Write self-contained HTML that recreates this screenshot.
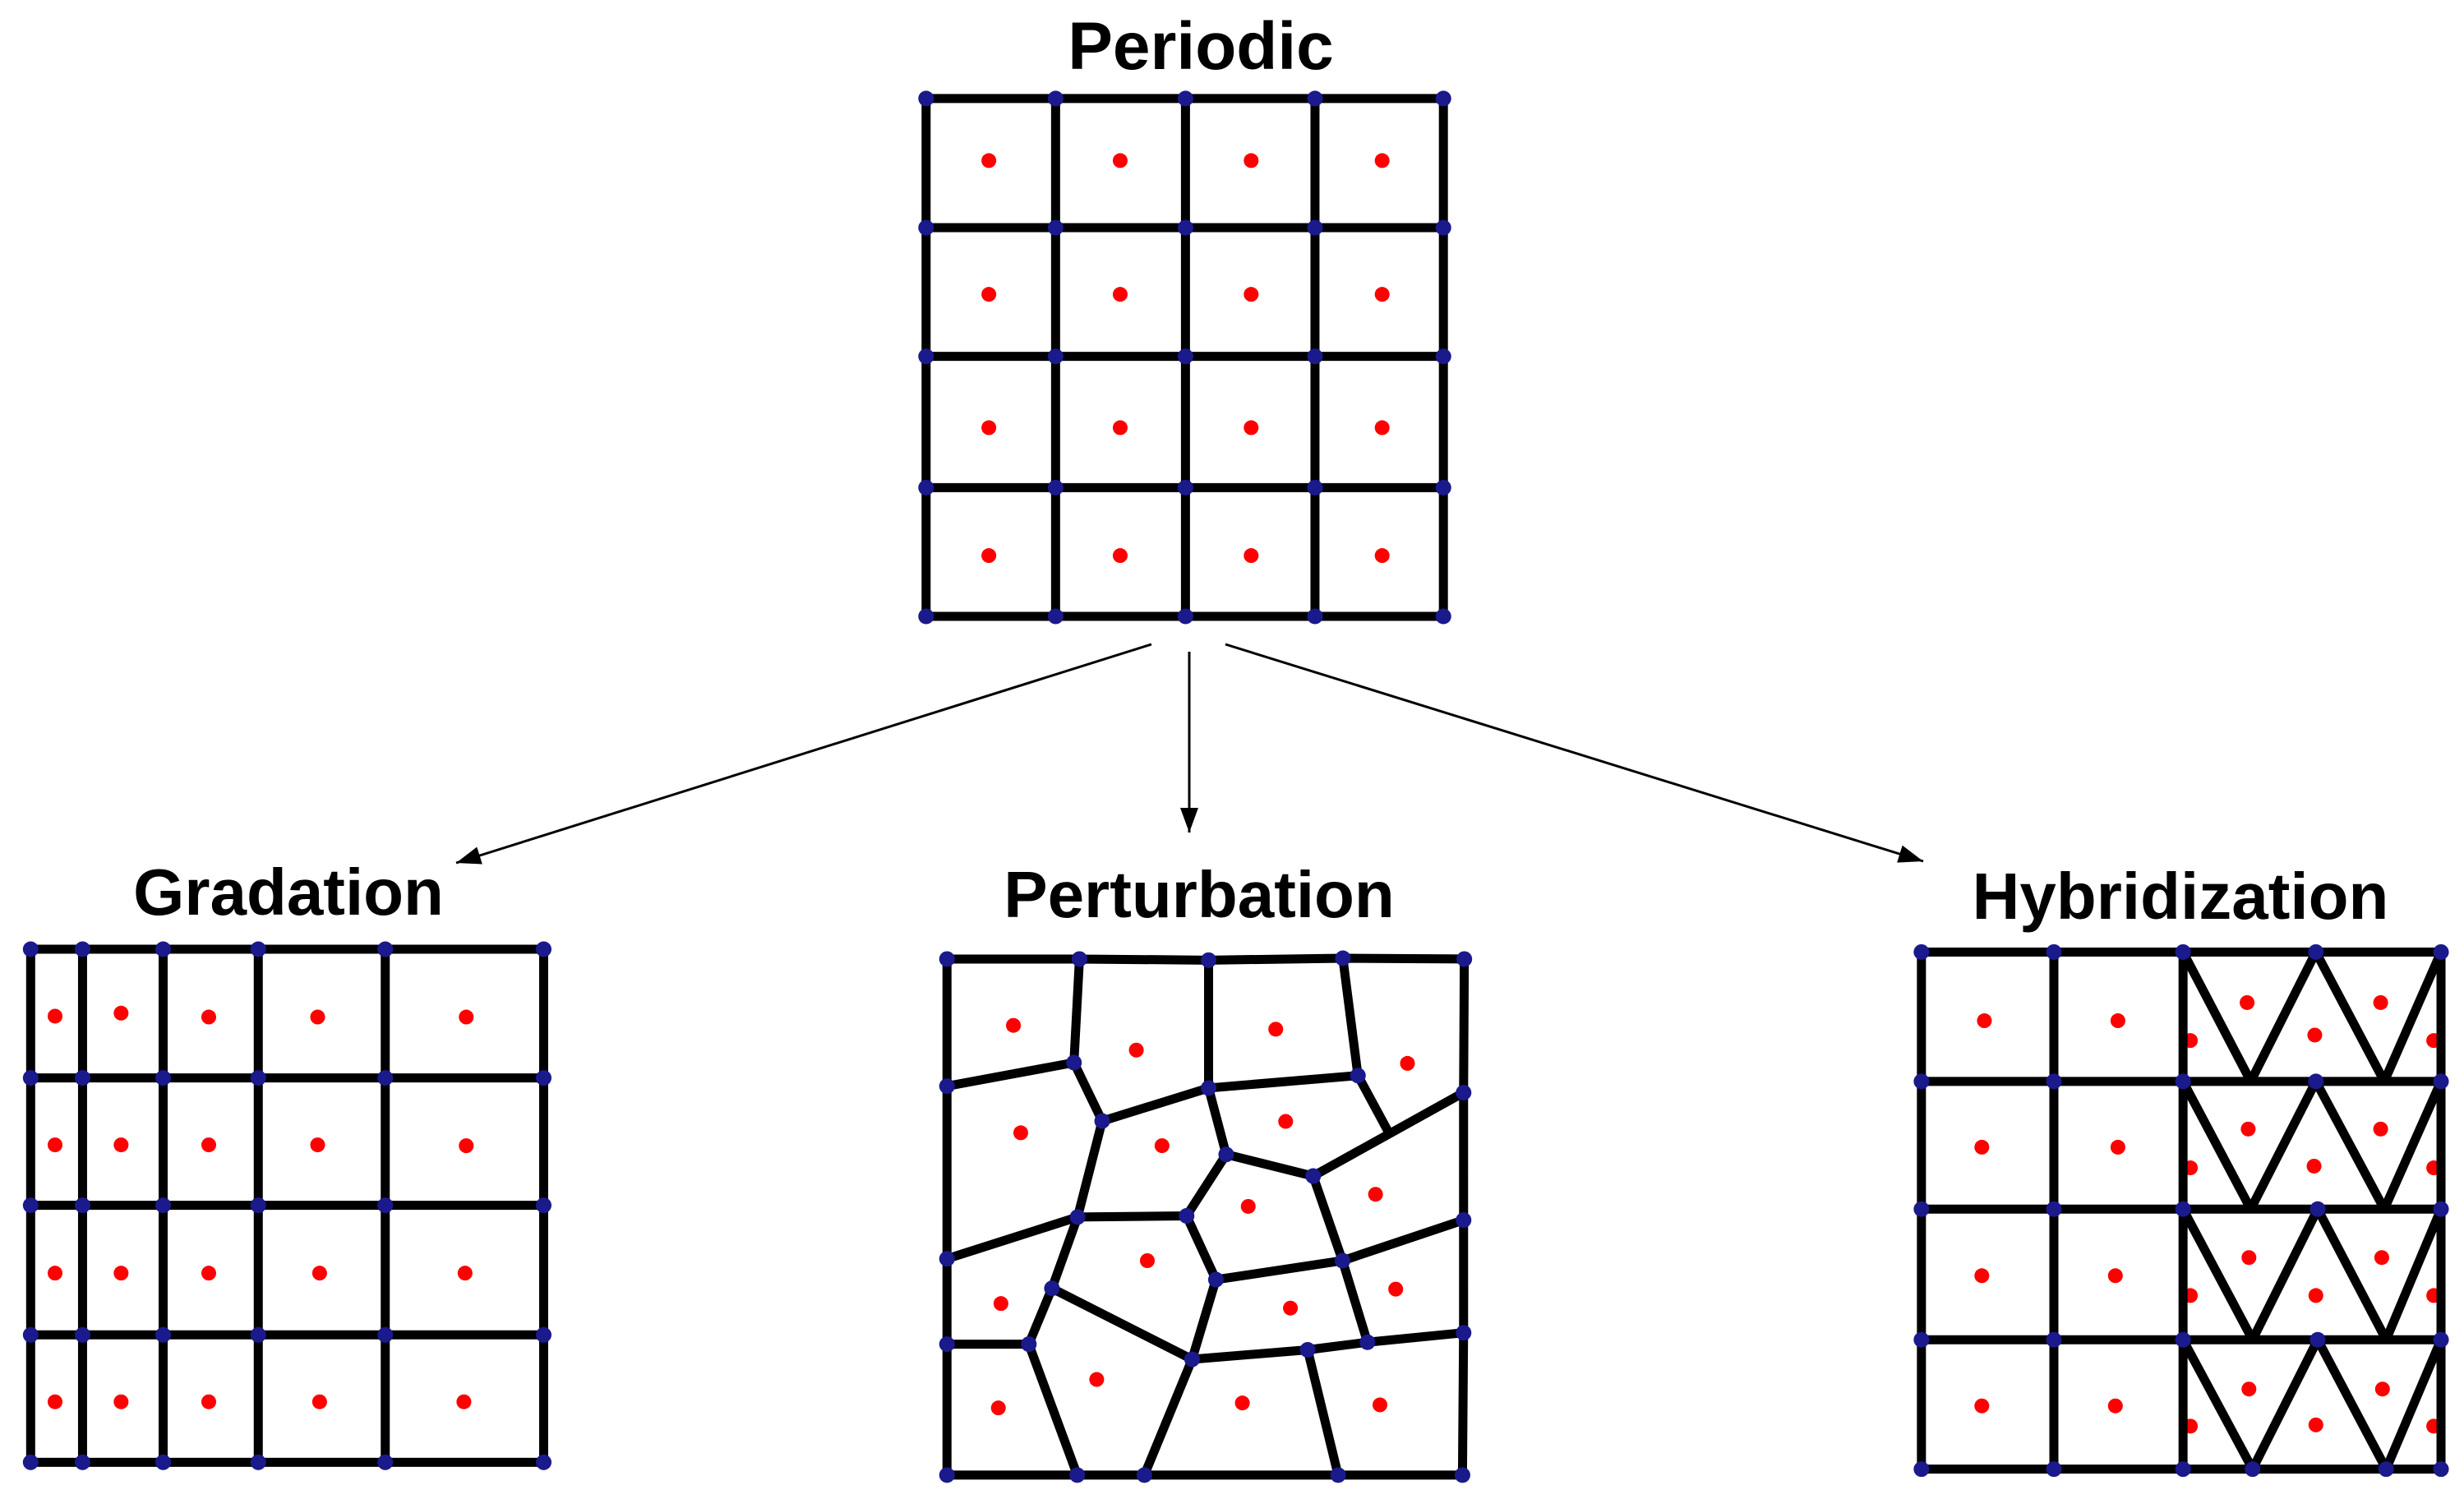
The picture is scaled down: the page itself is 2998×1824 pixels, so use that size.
<!DOCTYPE html>
<html><head><meta charset="utf-8"><style>
html,body{margin:0;padding:0;background:#fff;}
svg{display:block}
text{font-family:"Liberation Sans",Arial,sans-serif;font-weight:bold;fill:#000}
.ln{stroke:#000;stroke-width:11;fill:none;vector-effect:non-scaling-stroke;stroke-linejoin:round;stroke-linecap:round}
.bd{stroke:#1a1a8c;stroke-width:19;stroke-linecap:round;fill:none;vector-effect:non-scaling-stroke}
.rd{stroke:#ff0000;stroke-width:18;stroke-linecap:round;fill:none;vector-effect:non-scaling-stroke}
</style></head><body>
<svg width="2998" height="1824" viewBox="0 0 2998 1824" xmlns="http://www.w3.org/2000/svg">
<defs>
<marker id="ah2" viewBox="0 0 30 22" refX="30" refY="11" markerWidth="30" markerHeight="22" orient="auto" markerUnits="userSpaceOnUse"><path d="M0,0 L30,11 L0,22 z" fill="#000"/></marker></defs>

<text x="1461" y="84" font-size="82" text-anchor="middle">Periodic</text>
<text x="351" y="1113" font-size="80" text-anchor="middle">Gradation</text>
<text x="1459" y="1116" font-size="80" text-anchor="middle">Perturbation</text>
<text x="2653" y="1118" font-size="80" text-anchor="middle">Hybridization</text>

<line x1="1401" y1="784" x2="555" y2="1050" stroke="#000" stroke-width="3" marker-end="url(#ah2)"/>
<line x1="1447" y1="793" x2="1447" y2="1013" stroke="#000" stroke-width="3" marker-end="url(#ah2)"/>
<line x1="1491" y1="784" x2="2340" y2="1048" stroke="#000" stroke-width="3" marker-end="url(#ah2)"/>

<g transform="matrix(0.4464,0,0,0.5102,1100,0)">
<path class="ln" d="M60,235H1470M60,543H1470M60,850H1470M60,1163H1470M60,1470H1470M60,235V1470M413,235V1470M767,235V1470M1120,235V1470M1470,235V1470"/>
<path class="rd" d="M231,383h.1M589,383h.1M946,383h.1M1303,383h.1M231,702h.1M589,702h.1M946,702h.1M1303,702h.1M231,1020h.1M589,1020h.1M946,1020h.1M1303,1020h.1M231,1325h.1M589,1325h.1M946,1325h.1M1303,1325h.1"/>
<path class="bd" d="M60,235h.1M413,235h.1M767,235h.1M1120,235h.1M1470,235h.1M60,543h.1M413,543h.1M767,543h.1M1120,543h.1M1470,543h.1M60,850h.1M413,850h.1M767,850h.1M1120,850h.1M1470,850h.1M60,1163h.1M413,1163h.1M767,1163h.1M1120,1163h.1M1470,1163h.1M60,1470h.1M413,1470h.1M767,1470h.1M1120,1470h.1M1470,1470h.1"/>
</g>

<g transform="matrix(0.4783,0,0,0.5255,0,1000)">
<path class="ln" d="M78,295H1383M78,593H1383M78,888H1383M78,1188H1383M78,1483H1383M78,295V1483M210,295V1483M415,295V1483M657,295V1483M980,295V1483M1383,295V1483"/>
<path class="rd" d="M140,450h.1M308,443h.1M531,452h.1M808,452h.1M1186,452h.1M140,748h.1M308,748h.1M531,748h.1M808,748h.1M1186,750h.1M140,1045h.1M308,1045h.1M531,1045h.1M813,1045h.1M1183,1045h.1M140,1343h.1M308,1343h.1M531,1343h.1M813,1343h.1M1180,1343h.1"/>
<path class="bd" d="M78,295h.1M210,295h.1M415,295h.1M657,295h.1M980,295h.1M1383,295h.1M78,593h.1M210,593h.1M415,593h.1M657,593h.1M980,593h.1M1383,593h.1M78,888h.1M210,888h.1M415,888h.1M657,888h.1M980,888h.1M1383,888h.1M78,1188h.1M210,1188h.1M415,1188h.1M657,1188h.1M980,1188h.1M1383,1188h.1M78,1483h.1M210,1483h.1M415,1483h.1M657,1483h.1M980,1483h.1M1383,1483h.1"/>
</g>

<g transform="matrix(0.4464,0,0,0.4617,1100,1100)">
<path class="ln" d="M117,145L478,145L830,148L1196,143L1527,145L1525,497L1525,833L1525,1130L1522,1505L1183,1505L655,1505L472,1505L117,1505L117,1160L117,935L117,480Z
M478,145L463,418M117,480L463,418M463,418L540,572M540,572L830,485M830,148L830,485M830,485L1237,452M1196,143L1237,452M1237,452L1318,597M1115,717L1525,497
M830,485L878,660M878,660L1115,717M1115,717L1195,940M540,572L473,825M473,825L770,822M770,822L878,660M117,935L473,825M473,825L403,1013M403,1013L340,1160
M117,1160L340,1160M340,1160L472,1505M403,1013L785,1200M770,822L850,990M850,990L785,1200M850,990L1195,940M1195,940L1525,833M1195,940L1263,1155
M785,1200L655,1505M785,1200L1100,1175M1100,1175L1263,1155M1263,1155L1525,1130M1100,1175L1183,1505"/>
<path class="rd" d="M298,320h.1M633,385h.1M1013,330h.1M1372,420h.1M318,603h.1M703,637h.1M1040,573h.1M938,797h.1M1285,765h.1M663,940h.1M264,1053h.1M1053,1065h.1M1340,1015h.1M525,1253h.1M257,1328h.1M922,1315h.1M1297,1320h.1"/>
<path class="bd" d="M117,145h.1M478,145h.1M830,148h.1M1196,143h.1M1527,145h.1M117,1505h.1M472,1505h.1M655,1505h.1M1183,1505h.1M1522,1505h.1M117,480h.1M117,935h.1M117,1160h.1M1525,497h.1M1525,833h.1M1525,1130h.1M463,418h.1M540,572h.1M830,485h.1M1237,452h.1M878,660h.1M1115,717h.1M473,825h.1M770,822h.1M1195,940h.1M850,990h.1M403,1013h.1M340,1160h.1M785,1200h.1M1100,1175h.1M1263,1155h.1"/>
</g>

<g transform="matrix(0.4452,0,0,0.5128,2300,1020)">
<path class="rd" d="M257,433h.1M622,433h.1M250,733h.1M622,733h.1M250,1038h.1M615,1038h.1M250,1347h.1M615,1347h.1
M975,390h.1M1340,390h.1M1160,467h.1M820,480h.1M1485,480h.1
M978,690h.1M1340,690h.1M1158,778h.1M820,782h.1M1485,782h.1
M980,995h.1M1343,995h.1M1163,1085h.1M820,1085h.1M1485,1085h.1
M980,1307h.1M1345,1307h.1M1163,1392h.1M820,1395h.1M1485,1395h.1"/>
<path class="ln" d="M85,270H1505M85,577H1505M85,880H1505M85,1190H1505M85,1497H1505M85,270V1497M447,270V1497M800,270V1497M1505,270V1497
M800,270L985,577L1163,270L1350,577L1505,270
M800,577L985,880L1163,577L1350,880L1505,577
M800,880L990,1190L1168,880L1355,1190L1505,880
M800,1190L990,1497L1168,1190L1355,1497L1505,1190"/>
<path class="bd" d="M85,270h.1M447,270h.1M800,270h.1M1163,270h.1M1505,270h.1M85,577h.1M447,577h.1M800,577h.1M1163,577h.1M1505,577h.1M85,880h.1M447,880h.1M800,880h.1M1168,880h.1M1505,880h.1M85,1190h.1M447,1190h.1M800,1190h.1M1168,1190h.1M1505,1190h.1M85,1497h.1M447,1497h.1M800,1497h.1M990,1497h.1M1355,1497h.1M1505,1497h.1"/>
</g>
</svg>
</body></html>
